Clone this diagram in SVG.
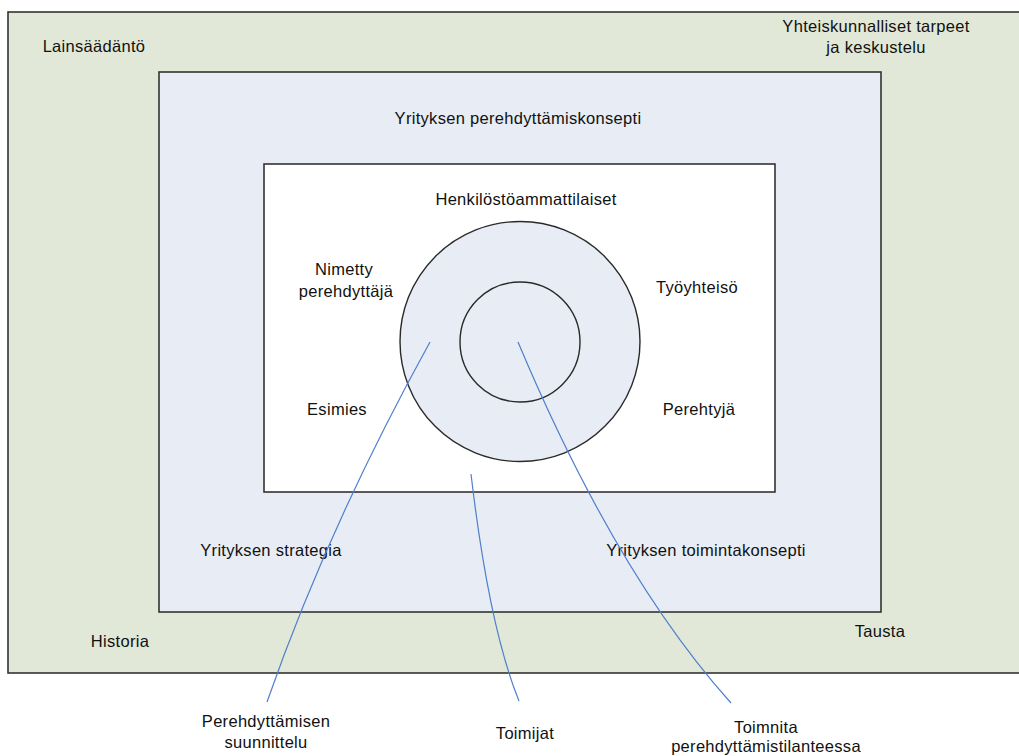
<svg xmlns="http://www.w3.org/2000/svg" width="1019" height="756" viewBox="0 0 1019 756">
  <style>
    .frame { stroke: #333333; stroke-width: 1.6; }
    .ring { stroke: #2a2a2a; stroke-width: 1.4; }
    .lbl { font-family: "Liberation Sans", Arial, sans-serif; font-size: 16.5px; letter-spacing: 0.3px; fill: #111111; text-anchor: middle; }
    .lead { fill: none; stroke: #4f7fcc; stroke-width: 1.2; }
  </style>

  <rect width="1019" height="756" fill="#ffffff"/>

  <!-- Outer context: background -->
  <g id="tausta">
    <rect class="frame" x="8" y="12" width="1030" height="661" fill="#e1e8d7"/>
    <text class="lbl" x="94" y="52">Lainsäädäntö</text>
    <text class="lbl" x="876" y="32">Yhteiskunnalliset tarpeet</text>
    <text class="lbl" x="876" y="53">ja keskustelu</text>
    <text class="lbl" x="120" y="647">Historia</text>
    <text class="lbl" x="880" y="637">Tausta</text>
  </g>

  <!-- Company orientation concept -->
  <g id="konsepti">
    <rect class="frame" x="159" y="72" width="722" height="540" fill="#e8ecf5"/>
    <text class="lbl" x="518" y="124">Yrityksen perehdyttämiskonsepti</text>
    <text class="lbl" x="271" y="556">Yrityksen strategia</text>
    <text class="lbl" x="706" y="556">Yrityksen toimintakonsepti</text>
  </g>

  <!-- Actors -->
  <g id="toimijat">
    <rect class="frame" x="264" y="164" width="511" height="328" fill="#ffffff"/>
    <text class="lbl" x="526" y="205">Henkilöstöammattilaiset</text>
    <text class="lbl" x="344" y="275">Nimetty</text>
    <text class="lbl" x="346" y="297">perehdyttäjä</text>
    <text class="lbl" x="697" y="293">Työyhteisö</text>
    <text class="lbl" x="337" y="415">Esimies</text>
    <text class="lbl" x="699" y="415">Perehtyjä</text>
  </g>

  <!-- Concentric rings -->
  <g id="kehat">
    <circle class="ring" cx="520" cy="341.5" r="120" fill="#e8ecf5"/>
    <circle class="ring" cx="520" cy="342" r="60" fill="#e8ecf5"/>
  </g>

  <!-- Leader lines to bottom labels -->
  <g id="viivat">
    <path class="lead" d="M430,342 Q328,527 267,702"/>
    <path class="lead" d="M471,474 Q489,627 519,701"/>
    <path class="lead" d="M518,342 Q616,575 731,703"/>
  </g>

  <g id="alaotsikot">
    <text class="lbl" x="266" y="727">Perehdyttämisen</text>
    <text class="lbl" x="266" y="748">suunnittelu</text>
    <text class="lbl" x="525" y="739">Toimijat</text>
    <text class="lbl" x="766" y="733">Toimnita</text>
    <text class="lbl" x="766" y="752">perehdyttämistilanteessa</text>
  </g>
</svg>
